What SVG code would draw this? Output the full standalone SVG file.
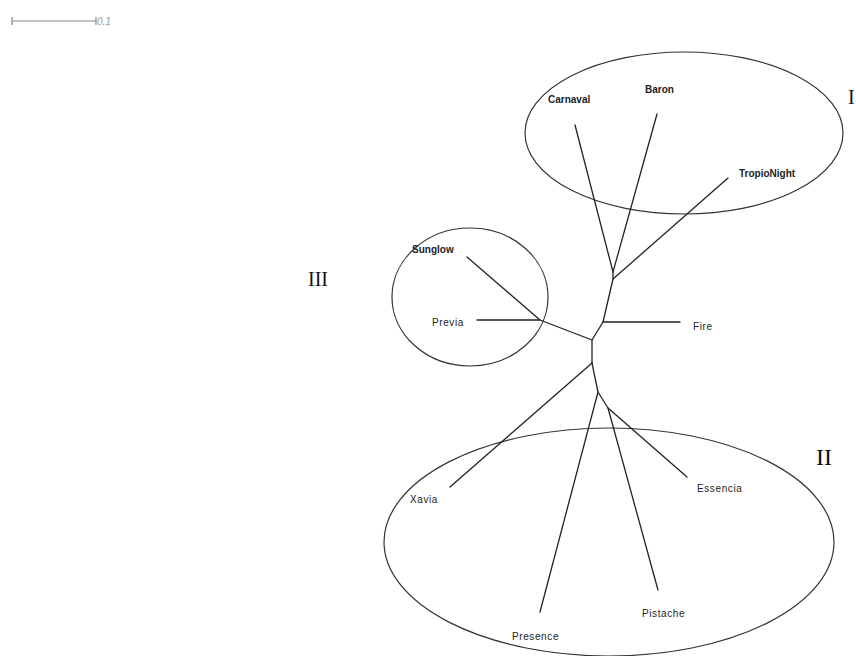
<svg xmlns="http://www.w3.org/2000/svg" width="856" height="656" viewBox="0 0 856 656">
<style>
.br{stroke:#222;stroke-width:1.3;fill:none;stroke-linecap:round;stroke-linejoin:round}
.grp{stroke:#333;stroke-width:1.2;fill:none}
.lb{font-family:"Liberation Sans",Arial,sans-serif;font-size:10px;fill:#222}
.lbb{font-weight:bold}
.lbs{letter-spacing:0.6px}
.rn{font-family:"Liberation Serif","Times New Roman",serif;fill:#111}
</style>
<rect width="856" height="656" fill="#fff"/>
<g id="scale">
<path d="M12 21H96M12 17V25M96 17V25" stroke="#888" stroke-width="1.2" fill="none"/>
<text x="97" y="25" font-family="Liberation Sans,Arial,sans-serif" font-size="10" font-style="italic" fill="#999">0.1</text>
</g>
<g id="groups">
<ellipse id="group-I" class="grp" cx="684" cy="133" rx="159" ry="81"/>
<ellipse id="group-III" class="grp" cx="470" cy="297" rx="78" ry="69"/>
<ellipse id="group-II" class="grp" cx="609" cy="542" rx="225" ry="114"/>
</g>
<g id="connectors">
<path class="br" d="M575 125L613 272L657 114"/>
<path class="br" d="M728 178L613 279"/>
<path class="br" d="M613 272L613 279L603 322L592 340L592 363"/>
<path class="br" d="M603 322H680"/>
<path class="br" d="M592 340L540 320L467 257"/>
<path class="br" d="M477 320H540"/>
<path class="br" d="M592 363L450 487"/>
<path class="br" d="M592 363L598 392L540 612"/>
<path class="br" d="M598 392L608 408L658 590"/>
<path class="br" d="M608 408L687 477"/>
</g>
<g id="nodes">
<g id="n-carnaval"><text class="lb lbb" x="548" y="103">Carnaval</text></g>
<g id="n-baron"><text class="lb lbb" x="645" y="93">Baron</text></g>
<g id="n-tropionight"><text class="lb lbb" x="739" y="177">TropioNight</text></g>
<g id="n-sunglow"><text class="lb lbb" x="412" y="253">Sunglow</text></g>
<g id="n-previa"><text class="lb lbs" x="432" y="326">Previa</text></g>
<g id="n-fire"><text class="lb lbs" x="693" y="330">Fire</text></g>
<g id="n-xavia"><text class="lb lbs" x="410" y="503">Xavia</text></g>
<g id="n-essencia"><text class="lb lbs" x="697" y="492">Essencia</text></g>
<g id="n-pistache"><text class="lb lbs" x="642" y="617">Pistache</text></g>
<g id="n-presence"><text class="lb lbs" x="512" y="640">Presence</text></g>
</g>
<g id="roman">
<text class="rn" x="308" y="286" font-size="20">III</text>
<text class="rn" x="816" y="465" font-size="24">II</text>
<text class="rn" x="848" y="104" font-size="20">I</text>
</g>
</svg>
